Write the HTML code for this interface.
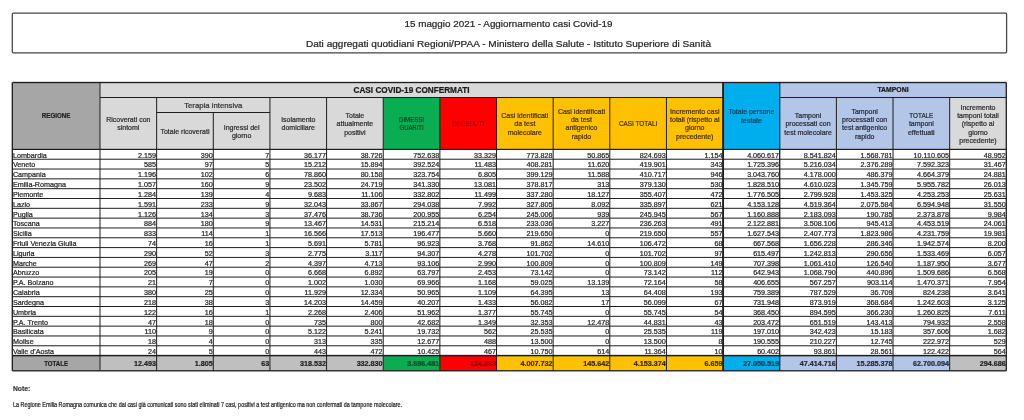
<!DOCTYPE html>
<html lang="it">
<head>
<meta charset="utf-8">
<title>15 maggio 2021 - Aggiornamento casi Covid-19</title>
<style>
html,body{margin:0;padding:0;background:#ffffff;}
body{width:1024px;height:420px;overflow:hidden;font-family:"Liberation Sans",sans-serif;}
svg{display:block;font-family:"Liberation Sans",sans-serif;filter:blur(0.35px);}
svg text{font-family:"Liberation Sans",sans-serif;}
</style>
</head>
<body>
<svg width="1024" height="420" viewBox="0 0 1024 420">
<rect x="0" y="0" width="1024" height="420" fill="#ffffff"/>
<rect x="12.30" y="13.20" width="994.30" height="39.60" fill="#ffffff"/>
<rect x="12.30" y="13.20" width="994.30" height="39.60" fill="none" stroke="#444444" stroke-width="1.25" rx="1"/>
<text x="508.50" y="27.00" font-size="9.6" text-anchor="middle" font-weight="normal" fill="#262626" stroke="#262626" stroke-width="0.22" textLength="208" lengthAdjust="spacingAndGlyphs">15 maggio 2021 - Aggiornamento casi Covid-19</text>
<text x="508.50" y="46.80" font-size="9.6" text-anchor="middle" font-weight="normal" fill="#262626" stroke="#262626" stroke-width="0.22" textLength="405" lengthAdjust="spacingAndGlyphs">Dati aggregati quotidiani Regioni/PPAA - Ministero della Salute - Istituto Superiore di Sanità</text>
<rect x="12.30" y="82.50" width="87.70" height="66.90" fill="#a6a6a6"/>
<rect x="100.00" y="82.50" width="623.08" height="15.00" fill="#d9d9d9"/>
<rect x="100.00" y="97.50" width="283.22" height="51.90" fill="#d9d9d9"/>
<rect x="383.22" y="97.50" width="56.64" height="51.90" fill="#0aad52"/>
<rect x="439.86" y="97.50" width="56.64" height="51.90" fill="#fe0000"/>
<rect x="496.51" y="97.50" width="226.57" height="51.90" fill="#ffc000"/>
<rect x="723.08" y="82.50" width="56.64" height="66.90" fill="#00aeee"/>
<rect x="779.72" y="82.50" width="226.58" height="15.00" fill="#b4c6e7"/>
<rect x="779.72" y="97.50" width="169.93" height="51.90" fill="#b4c6e7"/>
<rect x="949.66" y="97.50" width="56.64" height="51.90" fill="#d9d9d9"/>
<rect x="12.30" y="149.40" width="994.00" height="206.20" fill="#ffffff"/>
<rect x="12.30" y="355.60" width="87.70" height="15.20" fill="#a6a6a6"/>
<rect x="100.00" y="355.60" width="283.22" height="15.20" fill="#bfbfbf"/>
<rect x="383.22" y="355.60" width="56.64" height="15.20" fill="#0aad52"/>
<rect x="439.86" y="355.60" width="56.64" height="15.20" fill="#fe0000"/>
<rect x="496.51" y="355.60" width="226.57" height="15.20" fill="#ffc000"/>
<rect x="723.08" y="355.60" width="56.64" height="15.20" fill="#00aeee"/>
<rect x="779.72" y="355.60" width="169.93" height="15.20" fill="#b4c6e7"/>
<rect x="949.66" y="355.60" width="56.64" height="15.20" fill="#bfbfbf"/>
<rect x="12.30" y="81.83" width="994.00" height="1.35" fill="#1e1e1e" opacity="1"/>
<rect x="100.00" y="97.00" width="623.08" height="1.00" fill="#1e1e1e" opacity="1"/>
<rect x="779.72" y="97.00" width="226.58" height="1.00" fill="#1e1e1e" opacity="1"/>
<rect x="156.64" y="112.00" width="113.29" height="1.00" fill="#1e1e1e" opacity="1"/>
<rect x="12.30" y="148.80" width="994.00" height="1.20" fill="#1e1e1e" opacity="1"/>
<rect x="12.30" y="158.72" width="994.00" height="1.00" fill="#1e1e1e" opacity="1"/>
<rect x="12.30" y="168.54" width="994.00" height="1.00" fill="#1e1e1e" opacity="1"/>
<rect x="12.30" y="178.36" width="994.00" height="1.00" fill="#1e1e1e" opacity="1"/>
<rect x="12.30" y="188.18" width="994.00" height="1.00" fill="#1e1e1e" opacity="1"/>
<rect x="12.30" y="198.00" width="994.00" height="1.00" fill="#1e1e1e" opacity="1"/>
<rect x="12.30" y="207.81" width="994.00" height="1.00" fill="#1e1e1e" opacity="1"/>
<rect x="12.30" y="217.63" width="994.00" height="1.00" fill="#1e1e1e" opacity="1"/>
<rect x="12.30" y="227.45" width="994.00" height="1.00" fill="#1e1e1e" opacity="1"/>
<rect x="12.30" y="237.27" width="994.00" height="1.00" fill="#1e1e1e" opacity="1"/>
<rect x="12.30" y="247.09" width="994.00" height="1.00" fill="#1e1e1e" opacity="1"/>
<rect x="12.30" y="256.91" width="994.00" height="1.00" fill="#1e1e1e" opacity="1"/>
<rect x="12.30" y="266.73" width="994.00" height="1.00" fill="#1e1e1e" opacity="1"/>
<rect x="12.30" y="276.55" width="994.00" height="1.00" fill="#1e1e1e" opacity="1"/>
<rect x="12.30" y="286.37" width="994.00" height="1.00" fill="#1e1e1e" opacity="1"/>
<rect x="12.30" y="296.19" width="994.00" height="1.00" fill="#1e1e1e" opacity="1"/>
<rect x="12.30" y="306.00" width="994.00" height="1.00" fill="#1e1e1e" opacity="1"/>
<rect x="12.30" y="315.82" width="994.00" height="1.00" fill="#1e1e1e" opacity="1"/>
<rect x="12.30" y="325.64" width="994.00" height="1.00" fill="#1e1e1e" opacity="1"/>
<rect x="12.30" y="335.46" width="994.00" height="1.00" fill="#1e1e1e" opacity="1"/>
<rect x="12.30" y="345.28" width="994.00" height="1.00" fill="#1e1e1e" opacity="1"/>
<rect x="12.30" y="354.85" width="994.00" height="1.50" fill="#1e1e1e" opacity="1"/>
<rect x="12.30" y="370.15" width="994.00" height="1.30" fill="#1e1e1e" opacity="1"/>
<rect x="11.65" y="82.50" width="1.30" height="288.30" fill="#1e1e1e" opacity="1"/>
<rect x="1005.65" y="82.50" width="1.30" height="288.30" fill="#1e1e1e" opacity="1"/>
<rect x="99.50" y="82.50" width="1.00" height="288.30" fill="#1e1e1e" opacity="1"/>
<rect x="722.13" y="82.50" width="1.90" height="288.30" fill="#1e1e1e" opacity="1"/>
<rect x="779.07" y="82.50" width="1.30" height="288.30" fill="#1e1e1e" opacity="1"/>
<rect x="156.14" y="97.50" width="1.00" height="273.30" fill="#1e1e1e" opacity="1"/>
<rect x="212.79" y="112.50" width="1.00" height="258.30" fill="#1e1e1e" opacity="1"/>
<rect x="269.43" y="97.50" width="1.00" height="273.30" fill="#1e1e1e" opacity="1"/>
<rect x="326.07" y="97.50" width="1.00" height="273.30" fill="#1e1e1e" opacity="1"/>
<rect x="382.72" y="97.50" width="1.00" height="273.30" fill="#1e1e1e" opacity="1"/>
<rect x="439.36" y="97.50" width="1.00" height="273.30" fill="#1e1e1e" opacity="1"/>
<rect x="496.01" y="97.50" width="1.00" height="273.30" fill="#1e1e1e" opacity="1"/>
<rect x="552.65" y="97.50" width="1.00" height="273.30" fill="#1e1e1e" opacity="1"/>
<rect x="609.29" y="97.50" width="1.00" height="273.30" fill="#1e1e1e" opacity="1"/>
<rect x="665.94" y="97.50" width="1.00" height="273.30" fill="#1e1e1e" opacity="1"/>
<rect x="835.87" y="97.50" width="1.00" height="273.30" fill="#1e1e1e" opacity="1"/>
<rect x="892.51" y="97.50" width="1.00" height="273.30" fill="#1e1e1e" opacity="1"/>
<rect x="949.16" y="97.50" width="1.00" height="273.30" fill="#1e1e1e" opacity="1"/>
<text x="56.15" y="118.47" font-size="7.0" text-anchor="middle" font-weight="bold" fill="#1f1f1f" stroke="#1f1f1f" stroke-width="0.22" textLength="28.75" lengthAdjust="spacingAndGlyphs">REGIONE</text>
<text x="411.54" y="92.72" font-size="8.4" text-anchor="middle" font-weight="bold" fill="#1a1a1a" stroke="#1a1a1a" stroke-width="0.22" textLength="116" lengthAdjust="spacingAndGlyphs">CASI COVID-19 CONFERMATI</text>
<text x="893.01" y="92.22" font-size="7.0" text-anchor="middle" font-weight="bold" fill="#1a1a1a" stroke="#1a1a1a" stroke-width="0.22" textLength="31.2" lengthAdjust="spacingAndGlyphs">TAMPONI</text>
<text x="128.32" y="122.27" font-size="7.0" text-anchor="middle" font-weight="normal" fill="#2e2e2e" stroke="#2e2e2e" stroke-width="0.22">Ricoverati con</text>
<text x="128.32" y="130.47" font-size="7.0" text-anchor="middle" font-weight="normal" fill="#2e2e2e" stroke="#2e2e2e" stroke-width="0.22">sintomi</text>
<text x="213.29" y="107.88" font-size="8.0" text-anchor="middle" font-weight="normal" fill="#303030" stroke="#303030" stroke-width="0.22" textLength="58.25" lengthAdjust="spacingAndGlyphs">Terapia intensiva</text>
<text x="184.97" y="133.87" font-size="7.0" text-anchor="middle" font-weight="normal" fill="#2e2e2e" stroke="#2e2e2e" stroke-width="0.22">Totale ricoverati</text>
<text x="241.61" y="129.77" font-size="7.0" text-anchor="middle" font-weight="normal" fill="#2e2e2e" stroke="#2e2e2e" stroke-width="0.22">Ingressi del</text>
<text x="241.61" y="137.97" font-size="7.0" text-anchor="middle" font-weight="normal" fill="#2e2e2e" stroke="#2e2e2e" stroke-width="0.22">giorno</text>
<text x="298.25" y="122.27" font-size="7.0" text-anchor="middle" font-weight="normal" fill="#2e2e2e" stroke="#2e2e2e" stroke-width="0.22">Isolamento</text>
<text x="298.25" y="130.47" font-size="7.0" text-anchor="middle" font-weight="normal" fill="#2e2e2e" stroke="#2e2e2e" stroke-width="0.22">domiciliare</text>
<text x="354.90" y="118.17" font-size="7.0" text-anchor="middle" font-weight="normal" fill="#2e2e2e" stroke="#2e2e2e" stroke-width="0.22">Totale</text>
<text x="354.90" y="126.37" font-size="7.0" text-anchor="middle" font-weight="normal" fill="#2e2e2e" stroke="#2e2e2e" stroke-width="0.22">attualmente</text>
<text x="354.90" y="134.57" font-size="7.0" text-anchor="middle" font-weight="normal" fill="#2e2e2e" stroke="#2e2e2e" stroke-width="0.22">positivi</text>
<text x="411.54" y="122.27" font-size="7.0" text-anchor="middle" font-weight="normal" fill="#054a20" stroke="#054a20" stroke-width="0.22" textLength="25" lengthAdjust="spacingAndGlyphs">DIMESSI</text>
<text x="411.54" y="130.47" font-size="7.0" text-anchor="middle" font-weight="normal" fill="#054a20" stroke="#054a20" stroke-width="0.22" textLength="24" lengthAdjust="spacingAndGlyphs">GUARITI</text>
<text x="468.18" y="126.37" font-size="7.0" text-anchor="middle" font-weight="normal" fill="#a00808" stroke="#a00808" stroke-width="0.22" textLength="32" lengthAdjust="spacingAndGlyphs">DECEDUTI</text>
<text x="524.83" y="118.17" font-size="7.0" text-anchor="middle" font-weight="normal" fill="#4a3000" stroke="#4a3000" stroke-width="0.22">Casi identificati</text>
<text x="524.83" y="126.37" font-size="7.0" text-anchor="middle" font-weight="normal" fill="#4a3000" stroke="#4a3000" stroke-width="0.22">da test</text>
<text x="524.83" y="134.57" font-size="7.0" text-anchor="middle" font-weight="normal" fill="#4a3000" stroke="#4a3000" stroke-width="0.22">molecolare</text>
<text x="581.47" y="114.07" font-size="7.0" text-anchor="middle" font-weight="normal" fill="#4a3000" stroke="#4a3000" stroke-width="0.22">Casi identificati</text>
<text x="581.47" y="122.27" font-size="7.0" text-anchor="middle" font-weight="normal" fill="#4a3000" stroke="#4a3000" stroke-width="0.22">da test</text>
<text x="581.47" y="130.47" font-size="7.0" text-anchor="middle" font-weight="normal" fill="#4a3000" stroke="#4a3000" stroke-width="0.22">antigenico</text>
<text x="581.47" y="138.67" font-size="7.0" text-anchor="middle" font-weight="normal" fill="#4a3000" stroke="#4a3000" stroke-width="0.22">rapido</text>
<text x="638.12" y="126.37" font-size="7.0" text-anchor="middle" font-weight="normal" fill="#4a3000" stroke="#4a3000" stroke-width="0.22" textLength="38.25" lengthAdjust="spacingAndGlyphs">CASI TOTALI</text>
<text x="694.76" y="114.07" font-size="7.0" text-anchor="middle" font-weight="normal" fill="#4a3000" stroke="#4a3000" stroke-width="0.22">Incremento casi</text>
<text x="694.76" y="122.27" font-size="7.0" text-anchor="middle" font-weight="normal" fill="#4a3000" stroke="#4a3000" stroke-width="0.22">totali (rispetto al</text>
<text x="694.76" y="130.47" font-size="7.0" text-anchor="middle" font-weight="normal" fill="#4a3000" stroke="#4a3000" stroke-width="0.22">giorno</text>
<text x="694.76" y="138.67" font-size="7.0" text-anchor="middle" font-weight="normal" fill="#4a3000" stroke="#4a3000" stroke-width="0.22">precedente)</text>
<text x="751.40" y="114.37" font-size="7.0" text-anchor="middle" font-weight="normal" fill="#123d60" stroke="#123d60" stroke-width="0.22">Totale persone</text>
<text x="751.40" y="122.57" font-size="7.0" text-anchor="middle" font-weight="normal" fill="#123d60" stroke="#123d60" stroke-width="0.22">testate</text>
<text x="808.05" y="118.17" font-size="7.0" text-anchor="middle" font-weight="normal" fill="#262c3a" stroke="#262c3a" stroke-width="0.22">Tamponi</text>
<text x="808.05" y="126.37" font-size="7.0" text-anchor="middle" font-weight="normal" fill="#262c3a" stroke="#262c3a" stroke-width="0.22">processati con</text>
<text x="808.05" y="134.57" font-size="7.0" text-anchor="middle" font-weight="normal" fill="#262c3a" stroke="#262c3a" stroke-width="0.22">test molecolare</text>
<text x="864.69" y="114.07" font-size="7.0" text-anchor="middle" font-weight="normal" fill="#262c3a" stroke="#262c3a" stroke-width="0.22">Tamponi</text>
<text x="864.69" y="122.27" font-size="7.0" text-anchor="middle" font-weight="normal" fill="#262c3a" stroke="#262c3a" stroke-width="0.22">processati con</text>
<text x="864.69" y="130.47" font-size="7.0" text-anchor="middle" font-weight="normal" fill="#262c3a" stroke="#262c3a" stroke-width="0.22">test antigenico</text>
<text x="864.69" y="138.67" font-size="7.0" text-anchor="middle" font-weight="normal" fill="#262c3a" stroke="#262c3a" stroke-width="0.22">rapido</text>
<text x="921.33" y="118.17" font-size="7.0" text-anchor="middle" font-weight="normal" fill="#262c3a" stroke="#262c3a" stroke-width="0.22" textLength="24" lengthAdjust="spacingAndGlyphs">TOTALE</text>
<text x="921.33" y="126.37" font-size="7.0" text-anchor="middle" font-weight="normal" fill="#262c3a" stroke="#262c3a" stroke-width="0.22">tamponi</text>
<text x="921.33" y="134.57" font-size="7.0" text-anchor="middle" font-weight="normal" fill="#262c3a" stroke="#262c3a" stroke-width="0.22">effettuati</text>
<text x="977.98" y="109.97" font-size="7.0" text-anchor="middle" font-weight="normal" fill="#2e2e2e" stroke="#2e2e2e" stroke-width="0.22">Incremento</text>
<text x="977.98" y="118.17" font-size="7.0" text-anchor="middle" font-weight="normal" fill="#2e2e2e" stroke="#2e2e2e" stroke-width="0.22">tamponi totali</text>
<text x="977.98" y="126.37" font-size="7.0" text-anchor="middle" font-weight="normal" fill="#2e2e2e" stroke="#2e2e2e" stroke-width="0.22">(rispetto al</text>
<text x="977.98" y="134.57" font-size="7.0" text-anchor="middle" font-weight="normal" fill="#2e2e2e" stroke="#2e2e2e" stroke-width="0.22">giorno</text>
<text x="977.98" y="142.77" font-size="7.0" text-anchor="middle" font-weight="normal" fill="#2e2e2e" stroke="#2e2e2e" stroke-width="0.22">precedente)</text>
<text x="12.90" y="157.62" font-size="7.2" text-anchor="start" font-weight="normal" fill="#262626" stroke="#262626" stroke-width="0.22">Lombardia</text>
<text x="156.04" y="157.62" font-size="7.2" text-anchor="end" font-weight="normal" fill="#262626" stroke="#262626" stroke-width="0.22">2.159</text>
<text x="212.69" y="157.62" font-size="7.2" text-anchor="end" font-weight="normal" fill="#262626" stroke="#262626" stroke-width="0.22">390</text>
<text x="269.33" y="157.62" font-size="7.2" text-anchor="end" font-weight="normal" fill="#262626" stroke="#262626" stroke-width="0.22">7</text>
<text x="325.97" y="157.62" font-size="7.2" text-anchor="end" font-weight="normal" fill="#262626" stroke="#262626" stroke-width="0.22">36.177</text>
<text x="382.62" y="157.62" font-size="7.2" text-anchor="end" font-weight="normal" fill="#262626" stroke="#262626" stroke-width="0.22">38.726</text>
<text x="439.26" y="157.62" font-size="7.2" text-anchor="end" font-weight="normal" fill="#262626" stroke="#262626" stroke-width="0.22">752.638</text>
<text x="495.91" y="157.62" font-size="7.2" text-anchor="end" font-weight="normal" fill="#262626" stroke="#262626" stroke-width="0.22">33.329</text>
<text x="552.55" y="157.62" font-size="7.2" text-anchor="end" font-weight="normal" fill="#262626" stroke="#262626" stroke-width="0.22">773.828</text>
<text x="609.19" y="157.62" font-size="7.2" text-anchor="end" font-weight="normal" fill="#262626" stroke="#262626" stroke-width="0.22">50.865</text>
<text x="665.84" y="157.62" font-size="7.2" text-anchor="end" font-weight="normal" fill="#262626" stroke="#262626" stroke-width="0.22">824.693</text>
<text x="722.48" y="157.62" font-size="7.2" text-anchor="end" font-weight="normal" fill="#262626" stroke="#262626" stroke-width="0.22">1.154</text>
<text x="779.12" y="157.62" font-size="7.2" text-anchor="end" font-weight="normal" fill="#262626" stroke="#262626" stroke-width="0.22">4.060.617</text>
<text x="835.77" y="157.62" font-size="7.2" text-anchor="end" font-weight="normal" fill="#262626" stroke="#262626" stroke-width="0.22">8.541.824</text>
<text x="892.41" y="157.62" font-size="7.2" text-anchor="end" font-weight="normal" fill="#262626" stroke="#262626" stroke-width="0.22">1.568.781</text>
<text x="949.06" y="157.62" font-size="7.2" text-anchor="end" font-weight="normal" fill="#262626" stroke="#262626" stroke-width="0.22">10.110.605</text>
<text x="1005.70" y="157.62" font-size="7.2" text-anchor="end" font-weight="normal" fill="#262626" stroke="#262626" stroke-width="0.22">48.952</text>
<text x="12.90" y="167.44" font-size="7.2" text-anchor="start" font-weight="normal" fill="#262626" stroke="#262626" stroke-width="0.22">Veneto</text>
<text x="156.04" y="167.44" font-size="7.2" text-anchor="end" font-weight="normal" fill="#262626" stroke="#262626" stroke-width="0.22">585</text>
<text x="212.69" y="167.44" font-size="7.2" text-anchor="end" font-weight="normal" fill="#262626" stroke="#262626" stroke-width="0.22">97</text>
<text x="269.33" y="167.44" font-size="7.2" text-anchor="end" font-weight="normal" fill="#262626" stroke="#262626" stroke-width="0.22">5</text>
<text x="325.97" y="167.44" font-size="7.2" text-anchor="end" font-weight="normal" fill="#262626" stroke="#262626" stroke-width="0.22">15.212</text>
<text x="382.62" y="167.44" font-size="7.2" text-anchor="end" font-weight="normal" fill="#262626" stroke="#262626" stroke-width="0.22">15.894</text>
<text x="439.26" y="167.44" font-size="7.2" text-anchor="end" font-weight="normal" fill="#262626" stroke="#262626" stroke-width="0.22">392.524</text>
<text x="495.91" y="167.44" font-size="7.2" text-anchor="end" font-weight="normal" fill="#262626" stroke="#262626" stroke-width="0.22">11.483</text>
<text x="552.55" y="167.44" font-size="7.2" text-anchor="end" font-weight="normal" fill="#262626" stroke="#262626" stroke-width="0.22">408.281</text>
<text x="609.19" y="167.44" font-size="7.2" text-anchor="end" font-weight="normal" fill="#262626" stroke="#262626" stroke-width="0.22">11.620</text>
<text x="665.84" y="167.44" font-size="7.2" text-anchor="end" font-weight="normal" fill="#262626" stroke="#262626" stroke-width="0.22">419.901</text>
<text x="722.48" y="167.44" font-size="7.2" text-anchor="end" font-weight="normal" fill="#262626" stroke="#262626" stroke-width="0.22">343</text>
<text x="779.12" y="167.44" font-size="7.2" text-anchor="end" font-weight="normal" fill="#262626" stroke="#262626" stroke-width="0.22">1.725.396</text>
<text x="835.77" y="167.44" font-size="7.2" text-anchor="end" font-weight="normal" fill="#262626" stroke="#262626" stroke-width="0.22">5.216.034</text>
<text x="892.41" y="167.44" font-size="7.2" text-anchor="end" font-weight="normal" fill="#262626" stroke="#262626" stroke-width="0.22">2.376.289</text>
<text x="949.06" y="167.44" font-size="7.2" text-anchor="end" font-weight="normal" fill="#262626" stroke="#262626" stroke-width="0.22">7.592.323</text>
<text x="1005.70" y="167.44" font-size="7.2" text-anchor="end" font-weight="normal" fill="#262626" stroke="#262626" stroke-width="0.22">31.467</text>
<text x="12.90" y="177.26" font-size="7.2" text-anchor="start" font-weight="normal" fill="#262626" stroke="#262626" stroke-width="0.22">Campania</text>
<text x="156.04" y="177.26" font-size="7.2" text-anchor="end" font-weight="normal" fill="#262626" stroke="#262626" stroke-width="0.22">1.196</text>
<text x="212.69" y="177.26" font-size="7.2" text-anchor="end" font-weight="normal" fill="#262626" stroke="#262626" stroke-width="0.22">102</text>
<text x="269.33" y="177.26" font-size="7.2" text-anchor="end" font-weight="normal" fill="#262626" stroke="#262626" stroke-width="0.22">6</text>
<text x="325.97" y="177.26" font-size="7.2" text-anchor="end" font-weight="normal" fill="#262626" stroke="#262626" stroke-width="0.22">78.860</text>
<text x="382.62" y="177.26" font-size="7.2" text-anchor="end" font-weight="normal" fill="#262626" stroke="#262626" stroke-width="0.22">80.158</text>
<text x="439.26" y="177.26" font-size="7.2" text-anchor="end" font-weight="normal" fill="#262626" stroke="#262626" stroke-width="0.22">323.754</text>
<text x="495.91" y="177.26" font-size="7.2" text-anchor="end" font-weight="normal" fill="#262626" stroke="#262626" stroke-width="0.22">6.805</text>
<text x="552.55" y="177.26" font-size="7.2" text-anchor="end" font-weight="normal" fill="#262626" stroke="#262626" stroke-width="0.22">399.129</text>
<text x="609.19" y="177.26" font-size="7.2" text-anchor="end" font-weight="normal" fill="#262626" stroke="#262626" stroke-width="0.22">11.588</text>
<text x="665.84" y="177.26" font-size="7.2" text-anchor="end" font-weight="normal" fill="#262626" stroke="#262626" stroke-width="0.22">410.717</text>
<text x="722.48" y="177.26" font-size="7.2" text-anchor="end" font-weight="normal" fill="#262626" stroke="#262626" stroke-width="0.22">946</text>
<text x="779.12" y="177.26" font-size="7.2" text-anchor="end" font-weight="normal" fill="#262626" stroke="#262626" stroke-width="0.22">3.043.760</text>
<text x="835.77" y="177.26" font-size="7.2" text-anchor="end" font-weight="normal" fill="#262626" stroke="#262626" stroke-width="0.22">4.178.000</text>
<text x="892.41" y="177.26" font-size="7.2" text-anchor="end" font-weight="normal" fill="#262626" stroke="#262626" stroke-width="0.22">486.379</text>
<text x="949.06" y="177.26" font-size="7.2" text-anchor="end" font-weight="normal" fill="#262626" stroke="#262626" stroke-width="0.22">4.664.379</text>
<text x="1005.70" y="177.26" font-size="7.2" text-anchor="end" font-weight="normal" fill="#262626" stroke="#262626" stroke-width="0.22">24.881</text>
<text x="12.90" y="187.08" font-size="7.2" text-anchor="start" font-weight="normal" fill="#262626" stroke="#262626" stroke-width="0.22">Emilia-Romagna</text>
<text x="156.04" y="187.08" font-size="7.2" text-anchor="end" font-weight="normal" fill="#262626" stroke="#262626" stroke-width="0.22">1.057</text>
<text x="212.69" y="187.08" font-size="7.2" text-anchor="end" font-weight="normal" fill="#262626" stroke="#262626" stroke-width="0.22">160</text>
<text x="269.33" y="187.08" font-size="7.2" text-anchor="end" font-weight="normal" fill="#262626" stroke="#262626" stroke-width="0.22">9</text>
<text x="325.97" y="187.08" font-size="7.2" text-anchor="end" font-weight="normal" fill="#262626" stroke="#262626" stroke-width="0.22">23.502</text>
<text x="382.62" y="187.08" font-size="7.2" text-anchor="end" font-weight="normal" fill="#262626" stroke="#262626" stroke-width="0.22">24.719</text>
<text x="439.26" y="187.08" font-size="7.2" text-anchor="end" font-weight="normal" fill="#262626" stroke="#262626" stroke-width="0.22">341.330</text>
<text x="495.91" y="187.08" font-size="7.2" text-anchor="end" font-weight="normal" fill="#262626" stroke="#262626" stroke-width="0.22">13.081</text>
<text x="552.55" y="187.08" font-size="7.2" text-anchor="end" font-weight="normal" fill="#262626" stroke="#262626" stroke-width="0.22">378.817</text>
<text x="609.19" y="187.08" font-size="7.2" text-anchor="end" font-weight="normal" fill="#262626" stroke="#262626" stroke-width="0.22">313</text>
<text x="665.84" y="187.08" font-size="7.2" text-anchor="end" font-weight="normal" fill="#262626" stroke="#262626" stroke-width="0.22">379.130</text>
<text x="722.48" y="187.08" font-size="7.2" text-anchor="end" font-weight="normal" fill="#262626" stroke="#262626" stroke-width="0.22">530</text>
<text x="779.12" y="187.08" font-size="7.2" text-anchor="end" font-weight="normal" fill="#262626" stroke="#262626" stroke-width="0.22">1.828.510</text>
<text x="835.77" y="187.08" font-size="7.2" text-anchor="end" font-weight="normal" fill="#262626" stroke="#262626" stroke-width="0.22">4.610.023</text>
<text x="892.41" y="187.08" font-size="7.2" text-anchor="end" font-weight="normal" fill="#262626" stroke="#262626" stroke-width="0.22">1.345.759</text>
<text x="949.06" y="187.08" font-size="7.2" text-anchor="end" font-weight="normal" fill="#262626" stroke="#262626" stroke-width="0.22">5.955.782</text>
<text x="1005.70" y="187.08" font-size="7.2" text-anchor="end" font-weight="normal" fill="#262626" stroke="#262626" stroke-width="0.22">26.013</text>
<text x="12.90" y="196.90" font-size="7.2" text-anchor="start" font-weight="normal" fill="#262626" stroke="#262626" stroke-width="0.22">Piemonte</text>
<text x="156.04" y="196.90" font-size="7.2" text-anchor="end" font-weight="normal" fill="#262626" stroke="#262626" stroke-width="0.22">1.284</text>
<text x="212.69" y="196.90" font-size="7.2" text-anchor="end" font-weight="normal" fill="#262626" stroke="#262626" stroke-width="0.22">139</text>
<text x="269.33" y="196.90" font-size="7.2" text-anchor="end" font-weight="normal" fill="#262626" stroke="#262626" stroke-width="0.22">4</text>
<text x="325.97" y="196.90" font-size="7.2" text-anchor="end" font-weight="normal" fill="#262626" stroke="#262626" stroke-width="0.22">9.683</text>
<text x="382.62" y="196.90" font-size="7.2" text-anchor="end" font-weight="normal" fill="#262626" stroke="#262626" stroke-width="0.22">11.106</text>
<text x="439.26" y="196.90" font-size="7.2" text-anchor="end" font-weight="normal" fill="#262626" stroke="#262626" stroke-width="0.22">332.802</text>
<text x="495.91" y="196.90" font-size="7.2" text-anchor="end" font-weight="normal" fill="#262626" stroke="#262626" stroke-width="0.22">11.499</text>
<text x="552.55" y="196.90" font-size="7.2" text-anchor="end" font-weight="normal" fill="#262626" stroke="#262626" stroke-width="0.22">337.280</text>
<text x="609.19" y="196.90" font-size="7.2" text-anchor="end" font-weight="normal" fill="#262626" stroke="#262626" stroke-width="0.22">18.127</text>
<text x="665.84" y="196.90" font-size="7.2" text-anchor="end" font-weight="normal" fill="#262626" stroke="#262626" stroke-width="0.22">355.407</text>
<text x="722.48" y="196.90" font-size="7.2" text-anchor="end" font-weight="normal" fill="#262626" stroke="#262626" stroke-width="0.22">472</text>
<text x="779.12" y="196.90" font-size="7.2" text-anchor="end" font-weight="normal" fill="#262626" stroke="#262626" stroke-width="0.22">1.776.505</text>
<text x="835.77" y="196.90" font-size="7.2" text-anchor="end" font-weight="normal" fill="#262626" stroke="#262626" stroke-width="0.22">2.799.928</text>
<text x="892.41" y="196.90" font-size="7.2" text-anchor="end" font-weight="normal" fill="#262626" stroke="#262626" stroke-width="0.22">1.453.325</text>
<text x="949.06" y="196.90" font-size="7.2" text-anchor="end" font-weight="normal" fill="#262626" stroke="#262626" stroke-width="0.22">4.253.253</text>
<text x="1005.70" y="196.90" font-size="7.2" text-anchor="end" font-weight="normal" fill="#262626" stroke="#262626" stroke-width="0.22">25.631</text>
<text x="12.90" y="206.71" font-size="7.2" text-anchor="start" font-weight="normal" fill="#262626" stroke="#262626" stroke-width="0.22">Lazio</text>
<text x="156.04" y="206.71" font-size="7.2" text-anchor="end" font-weight="normal" fill="#262626" stroke="#262626" stroke-width="0.22">1.591</text>
<text x="212.69" y="206.71" font-size="7.2" text-anchor="end" font-weight="normal" fill="#262626" stroke="#262626" stroke-width="0.22">233</text>
<text x="269.33" y="206.71" font-size="7.2" text-anchor="end" font-weight="normal" fill="#262626" stroke="#262626" stroke-width="0.22">9</text>
<text x="325.97" y="206.71" font-size="7.2" text-anchor="end" font-weight="normal" fill="#262626" stroke="#262626" stroke-width="0.22">32.043</text>
<text x="382.62" y="206.71" font-size="7.2" text-anchor="end" font-weight="normal" fill="#262626" stroke="#262626" stroke-width="0.22">33.867</text>
<text x="439.26" y="206.71" font-size="7.2" text-anchor="end" font-weight="normal" fill="#262626" stroke="#262626" stroke-width="0.22">294.038</text>
<text x="495.91" y="206.71" font-size="7.2" text-anchor="end" font-weight="normal" fill="#262626" stroke="#262626" stroke-width="0.22">7.992</text>
<text x="552.55" y="206.71" font-size="7.2" text-anchor="end" font-weight="normal" fill="#262626" stroke="#262626" stroke-width="0.22">327.805</text>
<text x="609.19" y="206.71" font-size="7.2" text-anchor="end" font-weight="normal" fill="#262626" stroke="#262626" stroke-width="0.22">8.092</text>
<text x="665.84" y="206.71" font-size="7.2" text-anchor="end" font-weight="normal" fill="#262626" stroke="#262626" stroke-width="0.22">335.897</text>
<text x="722.48" y="206.71" font-size="7.2" text-anchor="end" font-weight="normal" fill="#262626" stroke="#262626" stroke-width="0.22">621</text>
<text x="779.12" y="206.71" font-size="7.2" text-anchor="end" font-weight="normal" fill="#262626" stroke="#262626" stroke-width="0.22">4.153.128</text>
<text x="835.77" y="206.71" font-size="7.2" text-anchor="end" font-weight="normal" fill="#262626" stroke="#262626" stroke-width="0.22">4.519.364</text>
<text x="892.41" y="206.71" font-size="7.2" text-anchor="end" font-weight="normal" fill="#262626" stroke="#262626" stroke-width="0.22">2.075.584</text>
<text x="949.06" y="206.71" font-size="7.2" text-anchor="end" font-weight="normal" fill="#262626" stroke="#262626" stroke-width="0.22">6.594.948</text>
<text x="1005.70" y="206.71" font-size="7.2" text-anchor="end" font-weight="normal" fill="#262626" stroke="#262626" stroke-width="0.22">31.550</text>
<text x="12.90" y="216.53" font-size="7.2" text-anchor="start" font-weight="normal" fill="#262626" stroke="#262626" stroke-width="0.22">Puglia</text>
<text x="156.04" y="216.53" font-size="7.2" text-anchor="end" font-weight="normal" fill="#262626" stroke="#262626" stroke-width="0.22">1.126</text>
<text x="212.69" y="216.53" font-size="7.2" text-anchor="end" font-weight="normal" fill="#262626" stroke="#262626" stroke-width="0.22">134</text>
<text x="269.33" y="216.53" font-size="7.2" text-anchor="end" font-weight="normal" fill="#262626" stroke="#262626" stroke-width="0.22">3</text>
<text x="325.97" y="216.53" font-size="7.2" text-anchor="end" font-weight="normal" fill="#262626" stroke="#262626" stroke-width="0.22">37.476</text>
<text x="382.62" y="216.53" font-size="7.2" text-anchor="end" font-weight="normal" fill="#262626" stroke="#262626" stroke-width="0.22">38.736</text>
<text x="439.26" y="216.53" font-size="7.2" text-anchor="end" font-weight="normal" fill="#262626" stroke="#262626" stroke-width="0.22">200.955</text>
<text x="495.91" y="216.53" font-size="7.2" text-anchor="end" font-weight="normal" fill="#262626" stroke="#262626" stroke-width="0.22">6.254</text>
<text x="552.55" y="216.53" font-size="7.2" text-anchor="end" font-weight="normal" fill="#262626" stroke="#262626" stroke-width="0.22">245.006</text>
<text x="609.19" y="216.53" font-size="7.2" text-anchor="end" font-weight="normal" fill="#262626" stroke="#262626" stroke-width="0.22">939</text>
<text x="665.84" y="216.53" font-size="7.2" text-anchor="end" font-weight="normal" fill="#262626" stroke="#262626" stroke-width="0.22">245.945</text>
<text x="722.48" y="216.53" font-size="7.2" text-anchor="end" font-weight="normal" fill="#262626" stroke="#262626" stroke-width="0.22">567</text>
<text x="779.12" y="216.53" font-size="7.2" text-anchor="end" font-weight="normal" fill="#262626" stroke="#262626" stroke-width="0.22">1.160.888</text>
<text x="835.77" y="216.53" font-size="7.2" text-anchor="end" font-weight="normal" fill="#262626" stroke="#262626" stroke-width="0.22">2.183.093</text>
<text x="892.41" y="216.53" font-size="7.2" text-anchor="end" font-weight="normal" fill="#262626" stroke="#262626" stroke-width="0.22">190.785</text>
<text x="949.06" y="216.53" font-size="7.2" text-anchor="end" font-weight="normal" fill="#262626" stroke="#262626" stroke-width="0.22">2.373.878</text>
<text x="1005.70" y="216.53" font-size="7.2" text-anchor="end" font-weight="normal" fill="#262626" stroke="#262626" stroke-width="0.22">9.984</text>
<text x="12.90" y="226.35" font-size="7.2" text-anchor="start" font-weight="normal" fill="#262626" stroke="#262626" stroke-width="0.22">Toscana</text>
<text x="156.04" y="226.35" font-size="7.2" text-anchor="end" font-weight="normal" fill="#262626" stroke="#262626" stroke-width="0.22">884</text>
<text x="212.69" y="226.35" font-size="7.2" text-anchor="end" font-weight="normal" fill="#262626" stroke="#262626" stroke-width="0.22">180</text>
<text x="269.33" y="226.35" font-size="7.2" text-anchor="end" font-weight="normal" fill="#262626" stroke="#262626" stroke-width="0.22">9</text>
<text x="325.97" y="226.35" font-size="7.2" text-anchor="end" font-weight="normal" fill="#262626" stroke="#262626" stroke-width="0.22">13.467</text>
<text x="382.62" y="226.35" font-size="7.2" text-anchor="end" font-weight="normal" fill="#262626" stroke="#262626" stroke-width="0.22">14.531</text>
<text x="439.26" y="226.35" font-size="7.2" text-anchor="end" font-weight="normal" fill="#262626" stroke="#262626" stroke-width="0.22">215.214</text>
<text x="495.91" y="226.35" font-size="7.2" text-anchor="end" font-weight="normal" fill="#262626" stroke="#262626" stroke-width="0.22">6.518</text>
<text x="552.55" y="226.35" font-size="7.2" text-anchor="end" font-weight="normal" fill="#262626" stroke="#262626" stroke-width="0.22">233.036</text>
<text x="609.19" y="226.35" font-size="7.2" text-anchor="end" font-weight="normal" fill="#262626" stroke="#262626" stroke-width="0.22">3.227</text>
<text x="665.84" y="226.35" font-size="7.2" text-anchor="end" font-weight="normal" fill="#262626" stroke="#262626" stroke-width="0.22">236.263</text>
<text x="722.48" y="226.35" font-size="7.2" text-anchor="end" font-weight="normal" fill="#262626" stroke="#262626" stroke-width="0.22">491</text>
<text x="779.12" y="226.35" font-size="7.2" text-anchor="end" font-weight="normal" fill="#262626" stroke="#262626" stroke-width="0.22">2.122.881</text>
<text x="835.77" y="226.35" font-size="7.2" text-anchor="end" font-weight="normal" fill="#262626" stroke="#262626" stroke-width="0.22">3.508.106</text>
<text x="892.41" y="226.35" font-size="7.2" text-anchor="end" font-weight="normal" fill="#262626" stroke="#262626" stroke-width="0.22">945.413</text>
<text x="949.06" y="226.35" font-size="7.2" text-anchor="end" font-weight="normal" fill="#262626" stroke="#262626" stroke-width="0.22">4.453.519</text>
<text x="1005.70" y="226.35" font-size="7.2" text-anchor="end" font-weight="normal" fill="#262626" stroke="#262626" stroke-width="0.22">24.061</text>
<text x="12.90" y="236.17" font-size="7.2" text-anchor="start" font-weight="normal" fill="#262626" stroke="#262626" stroke-width="0.22">Sicilia</text>
<text x="156.04" y="236.17" font-size="7.2" text-anchor="end" font-weight="normal" fill="#262626" stroke="#262626" stroke-width="0.22">833</text>
<text x="212.69" y="236.17" font-size="7.2" text-anchor="end" font-weight="normal" fill="#262626" stroke="#262626" stroke-width="0.22">114</text>
<text x="269.33" y="236.17" font-size="7.2" text-anchor="end" font-weight="normal" fill="#262626" stroke="#262626" stroke-width="0.22">1</text>
<text x="325.97" y="236.17" font-size="7.2" text-anchor="end" font-weight="normal" fill="#262626" stroke="#262626" stroke-width="0.22">16.566</text>
<text x="382.62" y="236.17" font-size="7.2" text-anchor="end" font-weight="normal" fill="#262626" stroke="#262626" stroke-width="0.22">17.513</text>
<text x="439.26" y="236.17" font-size="7.2" text-anchor="end" font-weight="normal" fill="#262626" stroke="#262626" stroke-width="0.22">196.477</text>
<text x="495.91" y="236.17" font-size="7.2" text-anchor="end" font-weight="normal" fill="#262626" stroke="#262626" stroke-width="0.22">5.660</text>
<text x="552.55" y="236.17" font-size="7.2" text-anchor="end" font-weight="normal" fill="#262626" stroke="#262626" stroke-width="0.22">219.650</text>
<text x="609.19" y="236.17" font-size="7.2" text-anchor="end" font-weight="normal" fill="#262626" stroke="#262626" stroke-width="0.22">0</text>
<text x="665.84" y="236.17" font-size="7.2" text-anchor="end" font-weight="normal" fill="#262626" stroke="#262626" stroke-width="0.22">219.650</text>
<text x="722.48" y="236.17" font-size="7.2" text-anchor="end" font-weight="normal" fill="#262626" stroke="#262626" stroke-width="0.22">557</text>
<text x="779.12" y="236.17" font-size="7.2" text-anchor="end" font-weight="normal" fill="#262626" stroke="#262626" stroke-width="0.22">1.627.543</text>
<text x="835.77" y="236.17" font-size="7.2" text-anchor="end" font-weight="normal" fill="#262626" stroke="#262626" stroke-width="0.22">2.407.773</text>
<text x="892.41" y="236.17" font-size="7.2" text-anchor="end" font-weight="normal" fill="#262626" stroke="#262626" stroke-width="0.22">1.823.986</text>
<text x="949.06" y="236.17" font-size="7.2" text-anchor="end" font-weight="normal" fill="#262626" stroke="#262626" stroke-width="0.22">4.231.759</text>
<text x="1005.70" y="236.17" font-size="7.2" text-anchor="end" font-weight="normal" fill="#262626" stroke="#262626" stroke-width="0.22">19.981</text>
<text x="12.90" y="245.99" font-size="7.2" text-anchor="start" font-weight="normal" fill="#262626" stroke="#262626" stroke-width="0.22">Friuli Venezia Giulia</text>
<text x="156.04" y="245.99" font-size="7.2" text-anchor="end" font-weight="normal" fill="#262626" stroke="#262626" stroke-width="0.22">74</text>
<text x="212.69" y="245.99" font-size="7.2" text-anchor="end" font-weight="normal" fill="#262626" stroke="#262626" stroke-width="0.22">16</text>
<text x="269.33" y="245.99" font-size="7.2" text-anchor="end" font-weight="normal" fill="#262626" stroke="#262626" stroke-width="0.22">1</text>
<text x="325.97" y="245.99" font-size="7.2" text-anchor="end" font-weight="normal" fill="#262626" stroke="#262626" stroke-width="0.22">5.691</text>
<text x="382.62" y="245.99" font-size="7.2" text-anchor="end" font-weight="normal" fill="#262626" stroke="#262626" stroke-width="0.22">5.781</text>
<text x="439.26" y="245.99" font-size="7.2" text-anchor="end" font-weight="normal" fill="#262626" stroke="#262626" stroke-width="0.22">96.923</text>
<text x="495.91" y="245.99" font-size="7.2" text-anchor="end" font-weight="normal" fill="#262626" stroke="#262626" stroke-width="0.22">3.768</text>
<text x="552.55" y="245.99" font-size="7.2" text-anchor="end" font-weight="normal" fill="#262626" stroke="#262626" stroke-width="0.22">91.862</text>
<text x="609.19" y="245.99" font-size="7.2" text-anchor="end" font-weight="normal" fill="#262626" stroke="#262626" stroke-width="0.22">14.610</text>
<text x="665.84" y="245.99" font-size="7.2" text-anchor="end" font-weight="normal" fill="#262626" stroke="#262626" stroke-width="0.22">106.472</text>
<text x="722.48" y="245.99" font-size="7.2" text-anchor="end" font-weight="normal" fill="#262626" stroke="#262626" stroke-width="0.22">68</text>
<text x="779.12" y="245.99" font-size="7.2" text-anchor="end" font-weight="normal" fill="#262626" stroke="#262626" stroke-width="0.22">667.568</text>
<text x="835.77" y="245.99" font-size="7.2" text-anchor="end" font-weight="normal" fill="#262626" stroke="#262626" stroke-width="0.22">1.656.228</text>
<text x="892.41" y="245.99" font-size="7.2" text-anchor="end" font-weight="normal" fill="#262626" stroke="#262626" stroke-width="0.22">286.346</text>
<text x="949.06" y="245.99" font-size="7.2" text-anchor="end" font-weight="normal" fill="#262626" stroke="#262626" stroke-width="0.22">1.942.574</text>
<text x="1005.70" y="245.99" font-size="7.2" text-anchor="end" font-weight="normal" fill="#262626" stroke="#262626" stroke-width="0.22">8.200</text>
<text x="12.90" y="255.81" font-size="7.2" text-anchor="start" font-weight="normal" fill="#262626" stroke="#262626" stroke-width="0.22">Liguria</text>
<text x="156.04" y="255.81" font-size="7.2" text-anchor="end" font-weight="normal" fill="#262626" stroke="#262626" stroke-width="0.22">290</text>
<text x="212.69" y="255.81" font-size="7.2" text-anchor="end" font-weight="normal" fill="#262626" stroke="#262626" stroke-width="0.22">52</text>
<text x="269.33" y="255.81" font-size="7.2" text-anchor="end" font-weight="normal" fill="#262626" stroke="#262626" stroke-width="0.22">3</text>
<text x="325.97" y="255.81" font-size="7.2" text-anchor="end" font-weight="normal" fill="#262626" stroke="#262626" stroke-width="0.22">2.775</text>
<text x="382.62" y="255.81" font-size="7.2" text-anchor="end" font-weight="normal" fill="#262626" stroke="#262626" stroke-width="0.22">3.117</text>
<text x="439.26" y="255.81" font-size="7.2" text-anchor="end" font-weight="normal" fill="#262626" stroke="#262626" stroke-width="0.22">94.307</text>
<text x="495.91" y="255.81" font-size="7.2" text-anchor="end" font-weight="normal" fill="#262626" stroke="#262626" stroke-width="0.22">4.278</text>
<text x="552.55" y="255.81" font-size="7.2" text-anchor="end" font-weight="normal" fill="#262626" stroke="#262626" stroke-width="0.22">101.702</text>
<text x="609.19" y="255.81" font-size="7.2" text-anchor="end" font-weight="normal" fill="#262626" stroke="#262626" stroke-width="0.22">0</text>
<text x="665.84" y="255.81" font-size="7.2" text-anchor="end" font-weight="normal" fill="#262626" stroke="#262626" stroke-width="0.22">101.702</text>
<text x="722.48" y="255.81" font-size="7.2" text-anchor="end" font-weight="normal" fill="#262626" stroke="#262626" stroke-width="0.22">97</text>
<text x="779.12" y="255.81" font-size="7.2" text-anchor="end" font-weight="normal" fill="#262626" stroke="#262626" stroke-width="0.22">615.497</text>
<text x="835.77" y="255.81" font-size="7.2" text-anchor="end" font-weight="normal" fill="#262626" stroke="#262626" stroke-width="0.22">1.242.813</text>
<text x="892.41" y="255.81" font-size="7.2" text-anchor="end" font-weight="normal" fill="#262626" stroke="#262626" stroke-width="0.22">290.656</text>
<text x="949.06" y="255.81" font-size="7.2" text-anchor="end" font-weight="normal" fill="#262626" stroke="#262626" stroke-width="0.22">1.533.469</text>
<text x="1005.70" y="255.81" font-size="7.2" text-anchor="end" font-weight="normal" fill="#262626" stroke="#262626" stroke-width="0.22">6.057</text>
<text x="12.90" y="265.63" font-size="7.2" text-anchor="start" font-weight="normal" fill="#262626" stroke="#262626" stroke-width="0.22">Marche</text>
<text x="156.04" y="265.63" font-size="7.2" text-anchor="end" font-weight="normal" fill="#262626" stroke="#262626" stroke-width="0.22">269</text>
<text x="212.69" y="265.63" font-size="7.2" text-anchor="end" font-weight="normal" fill="#262626" stroke="#262626" stroke-width="0.22">47</text>
<text x="269.33" y="265.63" font-size="7.2" text-anchor="end" font-weight="normal" fill="#262626" stroke="#262626" stroke-width="0.22">2</text>
<text x="325.97" y="265.63" font-size="7.2" text-anchor="end" font-weight="normal" fill="#262626" stroke="#262626" stroke-width="0.22">4.397</text>
<text x="382.62" y="265.63" font-size="7.2" text-anchor="end" font-weight="normal" fill="#262626" stroke="#262626" stroke-width="0.22">4.713</text>
<text x="439.26" y="265.63" font-size="7.2" text-anchor="end" font-weight="normal" fill="#262626" stroke="#262626" stroke-width="0.22">93.106</text>
<text x="495.91" y="265.63" font-size="7.2" text-anchor="end" font-weight="normal" fill="#262626" stroke="#262626" stroke-width="0.22">2.990</text>
<text x="552.55" y="265.63" font-size="7.2" text-anchor="end" font-weight="normal" fill="#262626" stroke="#262626" stroke-width="0.22">100.809</text>
<text x="609.19" y="265.63" font-size="7.2" text-anchor="end" font-weight="normal" fill="#262626" stroke="#262626" stroke-width="0.22">0</text>
<text x="665.84" y="265.63" font-size="7.2" text-anchor="end" font-weight="normal" fill="#262626" stroke="#262626" stroke-width="0.22">100.809</text>
<text x="722.48" y="265.63" font-size="7.2" text-anchor="end" font-weight="normal" fill="#262626" stroke="#262626" stroke-width="0.22">149</text>
<text x="779.12" y="265.63" font-size="7.2" text-anchor="end" font-weight="normal" fill="#262626" stroke="#262626" stroke-width="0.22">707.398</text>
<text x="835.77" y="265.63" font-size="7.2" text-anchor="end" font-weight="normal" fill="#262626" stroke="#262626" stroke-width="0.22">1.061.410</text>
<text x="892.41" y="265.63" font-size="7.2" text-anchor="end" font-weight="normal" fill="#262626" stroke="#262626" stroke-width="0.22">126.540</text>
<text x="949.06" y="265.63" font-size="7.2" text-anchor="end" font-weight="normal" fill="#262626" stroke="#262626" stroke-width="0.22">1.187.950</text>
<text x="1005.70" y="265.63" font-size="7.2" text-anchor="end" font-weight="normal" fill="#262626" stroke="#262626" stroke-width="0.22">3.677</text>
<text x="12.90" y="275.45" font-size="7.2" text-anchor="start" font-weight="normal" fill="#262626" stroke="#262626" stroke-width="0.22">Abruzzo</text>
<text x="156.04" y="275.45" font-size="7.2" text-anchor="end" font-weight="normal" fill="#262626" stroke="#262626" stroke-width="0.22">205</text>
<text x="212.69" y="275.45" font-size="7.2" text-anchor="end" font-weight="normal" fill="#262626" stroke="#262626" stroke-width="0.22">19</text>
<text x="269.33" y="275.45" font-size="7.2" text-anchor="end" font-weight="normal" fill="#262626" stroke="#262626" stroke-width="0.22">0</text>
<text x="325.97" y="275.45" font-size="7.2" text-anchor="end" font-weight="normal" fill="#262626" stroke="#262626" stroke-width="0.22">6.668</text>
<text x="382.62" y="275.45" font-size="7.2" text-anchor="end" font-weight="normal" fill="#262626" stroke="#262626" stroke-width="0.22">6.892</text>
<text x="439.26" y="275.45" font-size="7.2" text-anchor="end" font-weight="normal" fill="#262626" stroke="#262626" stroke-width="0.22">63.797</text>
<text x="495.91" y="275.45" font-size="7.2" text-anchor="end" font-weight="normal" fill="#262626" stroke="#262626" stroke-width="0.22">2.453</text>
<text x="552.55" y="275.45" font-size="7.2" text-anchor="end" font-weight="normal" fill="#262626" stroke="#262626" stroke-width="0.22">73.142</text>
<text x="609.19" y="275.45" font-size="7.2" text-anchor="end" font-weight="normal" fill="#262626" stroke="#262626" stroke-width="0.22">0</text>
<text x="665.84" y="275.45" font-size="7.2" text-anchor="end" font-weight="normal" fill="#262626" stroke="#262626" stroke-width="0.22">73.142</text>
<text x="722.48" y="275.45" font-size="7.2" text-anchor="end" font-weight="normal" fill="#262626" stroke="#262626" stroke-width="0.22">112</text>
<text x="779.12" y="275.45" font-size="7.2" text-anchor="end" font-weight="normal" fill="#262626" stroke="#262626" stroke-width="0.22">642.943</text>
<text x="835.77" y="275.45" font-size="7.2" text-anchor="end" font-weight="normal" fill="#262626" stroke="#262626" stroke-width="0.22">1.068.790</text>
<text x="892.41" y="275.45" font-size="7.2" text-anchor="end" font-weight="normal" fill="#262626" stroke="#262626" stroke-width="0.22">440.896</text>
<text x="949.06" y="275.45" font-size="7.2" text-anchor="end" font-weight="normal" fill="#262626" stroke="#262626" stroke-width="0.22">1.509.686</text>
<text x="1005.70" y="275.45" font-size="7.2" text-anchor="end" font-weight="normal" fill="#262626" stroke="#262626" stroke-width="0.22">6.568</text>
<text x="12.90" y="285.27" font-size="7.2" text-anchor="start" font-weight="normal" fill="#262626" stroke="#262626" stroke-width="0.22">P.A. Bolzano</text>
<text x="156.04" y="285.27" font-size="7.2" text-anchor="end" font-weight="normal" fill="#262626" stroke="#262626" stroke-width="0.22">21</text>
<text x="212.69" y="285.27" font-size="7.2" text-anchor="end" font-weight="normal" fill="#262626" stroke="#262626" stroke-width="0.22">7</text>
<text x="269.33" y="285.27" font-size="7.2" text-anchor="end" font-weight="normal" fill="#262626" stroke="#262626" stroke-width="0.22">0</text>
<text x="325.97" y="285.27" font-size="7.2" text-anchor="end" font-weight="normal" fill="#262626" stroke="#262626" stroke-width="0.22">1.002</text>
<text x="382.62" y="285.27" font-size="7.2" text-anchor="end" font-weight="normal" fill="#262626" stroke="#262626" stroke-width="0.22">1.030</text>
<text x="439.26" y="285.27" font-size="7.2" text-anchor="end" font-weight="normal" fill="#262626" stroke="#262626" stroke-width="0.22">69.966</text>
<text x="495.91" y="285.27" font-size="7.2" text-anchor="end" font-weight="normal" fill="#262626" stroke="#262626" stroke-width="0.22">1.168</text>
<text x="552.55" y="285.27" font-size="7.2" text-anchor="end" font-weight="normal" fill="#262626" stroke="#262626" stroke-width="0.22">59.025</text>
<text x="609.19" y="285.27" font-size="7.2" text-anchor="end" font-weight="normal" fill="#262626" stroke="#262626" stroke-width="0.22">13.139</text>
<text x="665.84" y="285.27" font-size="7.2" text-anchor="end" font-weight="normal" fill="#262626" stroke="#262626" stroke-width="0.22">72.164</text>
<text x="722.48" y="285.27" font-size="7.2" text-anchor="end" font-weight="normal" fill="#262626" stroke="#262626" stroke-width="0.22">58</text>
<text x="779.12" y="285.27" font-size="7.2" text-anchor="end" font-weight="normal" fill="#262626" stroke="#262626" stroke-width="0.22">406.655</text>
<text x="835.77" y="285.27" font-size="7.2" text-anchor="end" font-weight="normal" fill="#262626" stroke="#262626" stroke-width="0.22">567.257</text>
<text x="892.41" y="285.27" font-size="7.2" text-anchor="end" font-weight="normal" fill="#262626" stroke="#262626" stroke-width="0.22">903.114</text>
<text x="949.06" y="285.27" font-size="7.2" text-anchor="end" font-weight="normal" fill="#262626" stroke="#262626" stroke-width="0.22">1.470.371</text>
<text x="1005.70" y="285.27" font-size="7.2" text-anchor="end" font-weight="normal" fill="#262626" stroke="#262626" stroke-width="0.22">7.954</text>
<text x="12.90" y="295.09" font-size="7.2" text-anchor="start" font-weight="normal" fill="#262626" stroke="#262626" stroke-width="0.22">Calabria</text>
<text x="156.04" y="295.09" font-size="7.2" text-anchor="end" font-weight="normal" fill="#262626" stroke="#262626" stroke-width="0.22">380</text>
<text x="212.69" y="295.09" font-size="7.2" text-anchor="end" font-weight="normal" fill="#262626" stroke="#262626" stroke-width="0.22">25</text>
<text x="269.33" y="295.09" font-size="7.2" text-anchor="end" font-weight="normal" fill="#262626" stroke="#262626" stroke-width="0.22">0</text>
<text x="325.97" y="295.09" font-size="7.2" text-anchor="end" font-weight="normal" fill="#262626" stroke="#262626" stroke-width="0.22">11.929</text>
<text x="382.62" y="295.09" font-size="7.2" text-anchor="end" font-weight="normal" fill="#262626" stroke="#262626" stroke-width="0.22">12.334</text>
<text x="439.26" y="295.09" font-size="7.2" text-anchor="end" font-weight="normal" fill="#262626" stroke="#262626" stroke-width="0.22">50.965</text>
<text x="495.91" y="295.09" font-size="7.2" text-anchor="end" font-weight="normal" fill="#262626" stroke="#262626" stroke-width="0.22">1.109</text>
<text x="552.55" y="295.09" font-size="7.2" text-anchor="end" font-weight="normal" fill="#262626" stroke="#262626" stroke-width="0.22">64.395</text>
<text x="609.19" y="295.09" font-size="7.2" text-anchor="end" font-weight="normal" fill="#262626" stroke="#262626" stroke-width="0.22">13</text>
<text x="665.84" y="295.09" font-size="7.2" text-anchor="end" font-weight="normal" fill="#262626" stroke="#262626" stroke-width="0.22">64.408</text>
<text x="722.48" y="295.09" font-size="7.2" text-anchor="end" font-weight="normal" fill="#262626" stroke="#262626" stroke-width="0.22">193</text>
<text x="779.12" y="295.09" font-size="7.2" text-anchor="end" font-weight="normal" fill="#262626" stroke="#262626" stroke-width="0.22">759.389</text>
<text x="835.77" y="295.09" font-size="7.2" text-anchor="end" font-weight="normal" fill="#262626" stroke="#262626" stroke-width="0.22">787.529</text>
<text x="892.41" y="295.09" font-size="7.2" text-anchor="end" font-weight="normal" fill="#262626" stroke="#262626" stroke-width="0.22">36.709</text>
<text x="949.06" y="295.09" font-size="7.2" text-anchor="end" font-weight="normal" fill="#262626" stroke="#262626" stroke-width="0.22">824.238</text>
<text x="1005.70" y="295.09" font-size="7.2" text-anchor="end" font-weight="normal" fill="#262626" stroke="#262626" stroke-width="0.22">3.641</text>
<text x="12.90" y="304.90" font-size="7.2" text-anchor="start" font-weight="normal" fill="#262626" stroke="#262626" stroke-width="0.22">Sardegna</text>
<text x="156.04" y="304.90" font-size="7.2" text-anchor="end" font-weight="normal" fill="#262626" stroke="#262626" stroke-width="0.22">218</text>
<text x="212.69" y="304.90" font-size="7.2" text-anchor="end" font-weight="normal" fill="#262626" stroke="#262626" stroke-width="0.22">38</text>
<text x="269.33" y="304.90" font-size="7.2" text-anchor="end" font-weight="normal" fill="#262626" stroke="#262626" stroke-width="0.22">3</text>
<text x="325.97" y="304.90" font-size="7.2" text-anchor="end" font-weight="normal" fill="#262626" stroke="#262626" stroke-width="0.22">14.203</text>
<text x="382.62" y="304.90" font-size="7.2" text-anchor="end" font-weight="normal" fill="#262626" stroke="#262626" stroke-width="0.22">14.459</text>
<text x="439.26" y="304.90" font-size="7.2" text-anchor="end" font-weight="normal" fill="#262626" stroke="#262626" stroke-width="0.22">40.207</text>
<text x="495.91" y="304.90" font-size="7.2" text-anchor="end" font-weight="normal" fill="#262626" stroke="#262626" stroke-width="0.22">1.433</text>
<text x="552.55" y="304.90" font-size="7.2" text-anchor="end" font-weight="normal" fill="#262626" stroke="#262626" stroke-width="0.22">56.082</text>
<text x="609.19" y="304.90" font-size="7.2" text-anchor="end" font-weight="normal" fill="#262626" stroke="#262626" stroke-width="0.22">17</text>
<text x="665.84" y="304.90" font-size="7.2" text-anchor="end" font-weight="normal" fill="#262626" stroke="#262626" stroke-width="0.22">56.099</text>
<text x="722.48" y="304.90" font-size="7.2" text-anchor="end" font-weight="normal" fill="#262626" stroke="#262626" stroke-width="0.22">67</text>
<text x="779.12" y="304.90" font-size="7.2" text-anchor="end" font-weight="normal" fill="#262626" stroke="#262626" stroke-width="0.22">731.948</text>
<text x="835.77" y="304.90" font-size="7.2" text-anchor="end" font-weight="normal" fill="#262626" stroke="#262626" stroke-width="0.22">873.919</text>
<text x="892.41" y="304.90" font-size="7.2" text-anchor="end" font-weight="normal" fill="#262626" stroke="#262626" stroke-width="0.22">368.684</text>
<text x="949.06" y="304.90" font-size="7.2" text-anchor="end" font-weight="normal" fill="#262626" stroke="#262626" stroke-width="0.22">1.242.603</text>
<text x="1005.70" y="304.90" font-size="7.2" text-anchor="end" font-weight="normal" fill="#262626" stroke="#262626" stroke-width="0.22">3.125</text>
<text x="12.90" y="314.72" font-size="7.2" text-anchor="start" font-weight="normal" fill="#262626" stroke="#262626" stroke-width="0.22">Umbria</text>
<text x="156.04" y="314.72" font-size="7.2" text-anchor="end" font-weight="normal" fill="#262626" stroke="#262626" stroke-width="0.22">122</text>
<text x="212.69" y="314.72" font-size="7.2" text-anchor="end" font-weight="normal" fill="#262626" stroke="#262626" stroke-width="0.22">16</text>
<text x="269.33" y="314.72" font-size="7.2" text-anchor="end" font-weight="normal" fill="#262626" stroke="#262626" stroke-width="0.22">1</text>
<text x="325.97" y="314.72" font-size="7.2" text-anchor="end" font-weight="normal" fill="#262626" stroke="#262626" stroke-width="0.22">2.268</text>
<text x="382.62" y="314.72" font-size="7.2" text-anchor="end" font-weight="normal" fill="#262626" stroke="#262626" stroke-width="0.22">2.406</text>
<text x="439.26" y="314.72" font-size="7.2" text-anchor="end" font-weight="normal" fill="#262626" stroke="#262626" stroke-width="0.22">51.962</text>
<text x="495.91" y="314.72" font-size="7.2" text-anchor="end" font-weight="normal" fill="#262626" stroke="#262626" stroke-width="0.22">1.377</text>
<text x="552.55" y="314.72" font-size="7.2" text-anchor="end" font-weight="normal" fill="#262626" stroke="#262626" stroke-width="0.22">55.745</text>
<text x="609.19" y="314.72" font-size="7.2" text-anchor="end" font-weight="normal" fill="#262626" stroke="#262626" stroke-width="0.22">0</text>
<text x="665.84" y="314.72" font-size="7.2" text-anchor="end" font-weight="normal" fill="#262626" stroke="#262626" stroke-width="0.22">55.745</text>
<text x="722.48" y="314.72" font-size="7.2" text-anchor="end" font-weight="normal" fill="#262626" stroke="#262626" stroke-width="0.22">54</text>
<text x="779.12" y="314.72" font-size="7.2" text-anchor="end" font-weight="normal" fill="#262626" stroke="#262626" stroke-width="0.22">368.450</text>
<text x="835.77" y="314.72" font-size="7.2" text-anchor="end" font-weight="normal" fill="#262626" stroke="#262626" stroke-width="0.22">894.595</text>
<text x="892.41" y="314.72" font-size="7.2" text-anchor="end" font-weight="normal" fill="#262626" stroke="#262626" stroke-width="0.22">366.230</text>
<text x="949.06" y="314.72" font-size="7.2" text-anchor="end" font-weight="normal" fill="#262626" stroke="#262626" stroke-width="0.22">1.260.825</text>
<text x="1005.70" y="314.72" font-size="7.2" text-anchor="end" font-weight="normal" fill="#262626" stroke="#262626" stroke-width="0.22">7.611</text>
<text x="12.90" y="324.54" font-size="7.2" text-anchor="start" font-weight="normal" fill="#262626" stroke="#262626" stroke-width="0.22">P.A. Trento</text>
<text x="156.04" y="324.54" font-size="7.2" text-anchor="end" font-weight="normal" fill="#262626" stroke="#262626" stroke-width="0.22">47</text>
<text x="212.69" y="324.54" font-size="7.2" text-anchor="end" font-weight="normal" fill="#262626" stroke="#262626" stroke-width="0.22">18</text>
<text x="269.33" y="324.54" font-size="7.2" text-anchor="end" font-weight="normal" fill="#262626" stroke="#262626" stroke-width="0.22">0</text>
<text x="325.97" y="324.54" font-size="7.2" text-anchor="end" font-weight="normal" fill="#262626" stroke="#262626" stroke-width="0.22">735</text>
<text x="382.62" y="324.54" font-size="7.2" text-anchor="end" font-weight="normal" fill="#262626" stroke="#262626" stroke-width="0.22">800</text>
<text x="439.26" y="324.54" font-size="7.2" text-anchor="end" font-weight="normal" fill="#262626" stroke="#262626" stroke-width="0.22">42.682</text>
<text x="495.91" y="324.54" font-size="7.2" text-anchor="end" font-weight="normal" fill="#262626" stroke="#262626" stroke-width="0.22">1.349</text>
<text x="552.55" y="324.54" font-size="7.2" text-anchor="end" font-weight="normal" fill="#262626" stroke="#262626" stroke-width="0.22">32.353</text>
<text x="609.19" y="324.54" font-size="7.2" text-anchor="end" font-weight="normal" fill="#262626" stroke="#262626" stroke-width="0.22">12.478</text>
<text x="665.84" y="324.54" font-size="7.2" text-anchor="end" font-weight="normal" fill="#262626" stroke="#262626" stroke-width="0.22">44.831</text>
<text x="722.48" y="324.54" font-size="7.2" text-anchor="end" font-weight="normal" fill="#262626" stroke="#262626" stroke-width="0.22">43</text>
<text x="779.12" y="324.54" font-size="7.2" text-anchor="end" font-weight="normal" fill="#262626" stroke="#262626" stroke-width="0.22">203.472</text>
<text x="835.77" y="324.54" font-size="7.2" text-anchor="end" font-weight="normal" fill="#262626" stroke="#262626" stroke-width="0.22">651.519</text>
<text x="892.41" y="324.54" font-size="7.2" text-anchor="end" font-weight="normal" fill="#262626" stroke="#262626" stroke-width="0.22">143.413</text>
<text x="949.06" y="324.54" font-size="7.2" text-anchor="end" font-weight="normal" fill="#262626" stroke="#262626" stroke-width="0.22">794.932</text>
<text x="1005.70" y="324.54" font-size="7.2" text-anchor="end" font-weight="normal" fill="#262626" stroke="#262626" stroke-width="0.22">2.558</text>
<text x="12.90" y="334.36" font-size="7.2" text-anchor="start" font-weight="normal" fill="#262626" stroke="#262626" stroke-width="0.22">Basilicata</text>
<text x="156.04" y="334.36" font-size="7.2" text-anchor="end" font-weight="normal" fill="#262626" stroke="#262626" stroke-width="0.22">110</text>
<text x="212.69" y="334.36" font-size="7.2" text-anchor="end" font-weight="normal" fill="#262626" stroke="#262626" stroke-width="0.22">9</text>
<text x="269.33" y="334.36" font-size="7.2" text-anchor="end" font-weight="normal" fill="#262626" stroke="#262626" stroke-width="0.22">0</text>
<text x="325.97" y="334.36" font-size="7.2" text-anchor="end" font-weight="normal" fill="#262626" stroke="#262626" stroke-width="0.22">5.122</text>
<text x="382.62" y="334.36" font-size="7.2" text-anchor="end" font-weight="normal" fill="#262626" stroke="#262626" stroke-width="0.22">5.241</text>
<text x="439.26" y="334.36" font-size="7.2" text-anchor="end" font-weight="normal" fill="#262626" stroke="#262626" stroke-width="0.22">19.732</text>
<text x="495.91" y="334.36" font-size="7.2" text-anchor="end" font-weight="normal" fill="#262626" stroke="#262626" stroke-width="0.22">562</text>
<text x="552.55" y="334.36" font-size="7.2" text-anchor="end" font-weight="normal" fill="#262626" stroke="#262626" stroke-width="0.22">25.535</text>
<text x="609.19" y="334.36" font-size="7.2" text-anchor="end" font-weight="normal" fill="#262626" stroke="#262626" stroke-width="0.22">0</text>
<text x="665.84" y="334.36" font-size="7.2" text-anchor="end" font-weight="normal" fill="#262626" stroke="#262626" stroke-width="0.22">25.535</text>
<text x="722.48" y="334.36" font-size="7.2" text-anchor="end" font-weight="normal" fill="#262626" stroke="#262626" stroke-width="0.22">119</text>
<text x="779.12" y="334.36" font-size="7.2" text-anchor="end" font-weight="normal" fill="#262626" stroke="#262626" stroke-width="0.22">197.010</text>
<text x="835.77" y="334.36" font-size="7.2" text-anchor="end" font-weight="normal" fill="#262626" stroke="#262626" stroke-width="0.22">342.423</text>
<text x="892.41" y="334.36" font-size="7.2" text-anchor="end" font-weight="normal" fill="#262626" stroke="#262626" stroke-width="0.22">15.183</text>
<text x="949.06" y="334.36" font-size="7.2" text-anchor="end" font-weight="normal" fill="#262626" stroke="#262626" stroke-width="0.22">357.606</text>
<text x="1005.70" y="334.36" font-size="7.2" text-anchor="end" font-weight="normal" fill="#262626" stroke="#262626" stroke-width="0.22">1.682</text>
<text x="12.90" y="344.18" font-size="7.2" text-anchor="start" font-weight="normal" fill="#262626" stroke="#262626" stroke-width="0.22">Molise</text>
<text x="156.04" y="344.18" font-size="7.2" text-anchor="end" font-weight="normal" fill="#262626" stroke="#262626" stroke-width="0.22">18</text>
<text x="212.69" y="344.18" font-size="7.2" text-anchor="end" font-weight="normal" fill="#262626" stroke="#262626" stroke-width="0.22">4</text>
<text x="269.33" y="344.18" font-size="7.2" text-anchor="end" font-weight="normal" fill="#262626" stroke="#262626" stroke-width="0.22">0</text>
<text x="325.97" y="344.18" font-size="7.2" text-anchor="end" font-weight="normal" fill="#262626" stroke="#262626" stroke-width="0.22">313</text>
<text x="382.62" y="344.18" font-size="7.2" text-anchor="end" font-weight="normal" fill="#262626" stroke="#262626" stroke-width="0.22">335</text>
<text x="439.26" y="344.18" font-size="7.2" text-anchor="end" font-weight="normal" fill="#262626" stroke="#262626" stroke-width="0.22">12.677</text>
<text x="495.91" y="344.18" font-size="7.2" text-anchor="end" font-weight="normal" fill="#262626" stroke="#262626" stroke-width="0.22">488</text>
<text x="552.55" y="344.18" font-size="7.2" text-anchor="end" font-weight="normal" fill="#262626" stroke="#262626" stroke-width="0.22">13.500</text>
<text x="609.19" y="344.18" font-size="7.2" text-anchor="end" font-weight="normal" fill="#262626" stroke="#262626" stroke-width="0.22">0</text>
<text x="665.84" y="344.18" font-size="7.2" text-anchor="end" font-weight="normal" fill="#262626" stroke="#262626" stroke-width="0.22">13.500</text>
<text x="722.48" y="344.18" font-size="7.2" text-anchor="end" font-weight="normal" fill="#262626" stroke="#262626" stroke-width="0.22">8</text>
<text x="779.12" y="344.18" font-size="7.2" text-anchor="end" font-weight="normal" fill="#262626" stroke="#262626" stroke-width="0.22">190.555</text>
<text x="835.77" y="344.18" font-size="7.2" text-anchor="end" font-weight="normal" fill="#262626" stroke="#262626" stroke-width="0.22">210.227</text>
<text x="892.41" y="344.18" font-size="7.2" text-anchor="end" font-weight="normal" fill="#262626" stroke="#262626" stroke-width="0.22">12.745</text>
<text x="949.06" y="344.18" font-size="7.2" text-anchor="end" font-weight="normal" fill="#262626" stroke="#262626" stroke-width="0.22">222.972</text>
<text x="1005.70" y="344.18" font-size="7.2" text-anchor="end" font-weight="normal" fill="#262626" stroke="#262626" stroke-width="0.22">529</text>
<text x="12.90" y="354.00" font-size="7.2" text-anchor="start" font-weight="normal" fill="#262626" stroke="#262626" stroke-width="0.22">Valle d'Aosta</text>
<text x="156.04" y="354.00" font-size="7.2" text-anchor="end" font-weight="normal" fill="#262626" stroke="#262626" stroke-width="0.22">24</text>
<text x="212.69" y="354.00" font-size="7.2" text-anchor="end" font-weight="normal" fill="#262626" stroke="#262626" stroke-width="0.22">5</text>
<text x="269.33" y="354.00" font-size="7.2" text-anchor="end" font-weight="normal" fill="#262626" stroke="#262626" stroke-width="0.22">0</text>
<text x="325.97" y="354.00" font-size="7.2" text-anchor="end" font-weight="normal" fill="#262626" stroke="#262626" stroke-width="0.22">443</text>
<text x="382.62" y="354.00" font-size="7.2" text-anchor="end" font-weight="normal" fill="#262626" stroke="#262626" stroke-width="0.22">472</text>
<text x="439.26" y="354.00" font-size="7.2" text-anchor="end" font-weight="normal" fill="#262626" stroke="#262626" stroke-width="0.22">10.425</text>
<text x="495.91" y="354.00" font-size="7.2" text-anchor="end" font-weight="normal" fill="#262626" stroke="#262626" stroke-width="0.22">467</text>
<text x="552.55" y="354.00" font-size="7.2" text-anchor="end" font-weight="normal" fill="#262626" stroke="#262626" stroke-width="0.22">10.750</text>
<text x="609.19" y="354.00" font-size="7.2" text-anchor="end" font-weight="normal" fill="#262626" stroke="#262626" stroke-width="0.22">614</text>
<text x="665.84" y="354.00" font-size="7.2" text-anchor="end" font-weight="normal" fill="#262626" stroke="#262626" stroke-width="0.22">11.364</text>
<text x="722.48" y="354.00" font-size="7.2" text-anchor="end" font-weight="normal" fill="#262626" stroke="#262626" stroke-width="0.22">10</text>
<text x="779.12" y="354.00" font-size="7.2" text-anchor="end" font-weight="normal" fill="#262626" stroke="#262626" stroke-width="0.22">60.402</text>
<text x="835.77" y="354.00" font-size="7.2" text-anchor="end" font-weight="normal" fill="#262626" stroke="#262626" stroke-width="0.22">93.861</text>
<text x="892.41" y="354.00" font-size="7.2" text-anchor="end" font-weight="normal" fill="#262626" stroke="#262626" stroke-width="0.22">28.561</text>
<text x="949.06" y="354.00" font-size="7.2" text-anchor="end" font-weight="normal" fill="#262626" stroke="#262626" stroke-width="0.22">122.422</text>
<text x="1005.70" y="354.00" font-size="7.2" text-anchor="end" font-weight="normal" fill="#262626" stroke="#262626" stroke-width="0.22">564</text>
<text x="56.15" y="366.10" font-size="7.0" text-anchor="middle" font-weight="bold" fill="#1f1f1f" stroke="#1f1f1f" stroke-width="0.22" textLength="23.75" lengthAdjust="spacingAndGlyphs">TOTALE</text>
<text x="156.04" y="366.10" font-size="7.2" text-anchor="end" font-weight="bold" fill="#1f1f1f" stroke="#1f1f1f" stroke-width="0.22">12.493</text>
<text x="212.69" y="366.10" font-size="7.2" text-anchor="end" font-weight="bold" fill="#1f1f1f" stroke="#1f1f1f" stroke-width="0.22">1.805</text>
<text x="269.33" y="366.10" font-size="7.2" text-anchor="end" font-weight="bold" fill="#1f1f1f" stroke="#1f1f1f" stroke-width="0.22">63</text>
<text x="325.97" y="366.10" font-size="7.2" text-anchor="end" font-weight="bold" fill="#1f1f1f" stroke="#1f1f1f" stroke-width="0.22">318.532</text>
<text x="382.62" y="366.10" font-size="7.2" text-anchor="end" font-weight="bold" fill="#1f1f1f" stroke="#1f1f1f" stroke-width="0.22">332.830</text>
<text x="439.26" y="366.10" font-size="7.2" text-anchor="end" font-weight="bold" fill="#064a20" stroke="#064a20" stroke-width="0.22">3.696.481</text>
<text x="495.91" y="366.10" font-size="7.2" text-anchor="end" font-weight="bold" fill="#8a0505" stroke="#8a0505" stroke-width="0.22">124.063</text>
<text x="552.55" y="366.10" font-size="7.2" text-anchor="end" font-weight="bold" fill="#3a2600" stroke="#3a2600" stroke-width="0.22">4.007.732</text>
<text x="609.19" y="366.10" font-size="7.2" text-anchor="end" font-weight="bold" fill="#3a2600" stroke="#3a2600" stroke-width="0.22">145.642</text>
<text x="665.84" y="366.10" font-size="7.2" text-anchor="end" font-weight="bold" fill="#3a2600" stroke="#3a2600" stroke-width="0.22">4.153.374</text>
<text x="722.48" y="366.10" font-size="7.2" text-anchor="end" font-weight="bold" fill="#3a2600" stroke="#3a2600" stroke-width="0.22">6.659</text>
<text x="779.12" y="366.10" font-size="7.2" text-anchor="end" font-weight="bold" fill="#0e3552" stroke="#0e3552" stroke-width="0.22">27.050.519</text>
<text x="835.77" y="366.10" font-size="7.2" text-anchor="end" font-weight="bold" fill="#222a3a" stroke="#222a3a" stroke-width="0.22">47.414.716</text>
<text x="892.41" y="366.10" font-size="7.2" text-anchor="end" font-weight="bold" fill="#222a3a" stroke="#222a3a" stroke-width="0.22">15.285.378</text>
<text x="949.06" y="366.10" font-size="7.2" text-anchor="end" font-weight="bold" fill="#222a3a" stroke="#222a3a" stroke-width="0.22">62.700.094</text>
<text x="1005.70" y="366.10" font-size="7.2" text-anchor="end" font-weight="bold" fill="#1f1f1f" stroke="#1f1f1f" stroke-width="0.22">294.686</text>
<text x="13.00" y="391.30" font-size="7.0" text-anchor="start" font-weight="bold" fill="#3c3c3c" stroke="#3c3c3c" stroke-width="0.22" textLength="17.2" lengthAdjust="spacingAndGlyphs">Note:</text>
<text x="13.00" y="406.60" font-size="7.0" text-anchor="start" font-weight="normal" fill="#222222" stroke="#222222" stroke-width="0.22" textLength="389" lengthAdjust="spacingAndGlyphs">La Regione Emilia Romagna comunica che dai casi già comunicati sono stati eliminati 7 casi, positivi a test antigenico ma non confermati da tampone molecolare.</text>
</svg>
</body>
</html>
